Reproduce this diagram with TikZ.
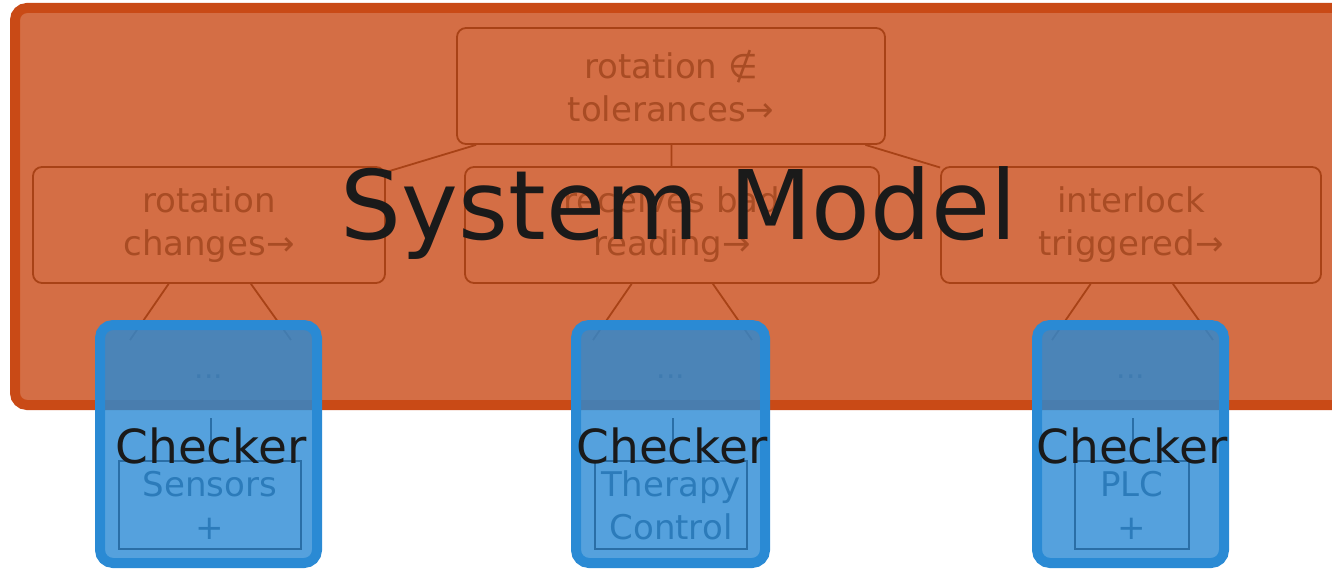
\documentclass[tikz,border=0pt]{standalone}
\usepackage{fontspec}
\setmainfont{DejaVu Sans}
\definecolor{sysorange}{HTML}{C94A16}
\definecolor{nodebrown}{HTML}{A84216}
\definecolor{nodetext}{HTML}{A94C24}
\definecolor{chkblue}{HTML}{2A8AD4}
\definecolor{dotblue}{HTML}{3F7BB0}
\definecolor{innerline}{HTML}{2A6EA6}
\definecolor{innertext}{HTML}{2C7BBA}
\definecolor{ink}{HTML}{1A1A1A}
\begin{document}
\begin{tikzpicture}[x=1pt,y=-1pt,
  sysbox/.style={draw=sysorange, fill=sysorange, fill opacity=0.8, line width=10pt, rounded corners=12pt},
  tnode/.style={draw=nodebrown, line width=1.8pt, rounded corners=9pt, text=nodetext,
    font=\fontsize{34}{43}\selectfont, align=center, inner sep=0pt, minimum height=116pt},
  conn/.style={draw=nodebrown, line width=1.8pt},
  chkbox/.style={draw=chkblue, fill=chkblue, fill opacity=0.8, line width=10pt, rounded corners=13pt},
  chklabel/.style={text=ink, font=\fontsize{47}{56}\selectfont, anchor=base, inner sep=0pt},
  dots/.style={text=dotblue, font=\fontsize{30}{36}\selectfont, anchor=base, inner sep=0pt},
  innerbox/.style={draw=innerline, line width=1.5pt, text=innertext,
    font=\fontsize{34}{43}\selectfont, align=center, inner sep=0pt},
  innerconn/.style={draw=innerline, line width=1.5pt}
]
\useasboundingbox (0,0) rectangle (1332,569);
% system box
\draw[sysbox] (15,8) rectangle (1345,405);
% tree nodes
\node[tnode, minimum width=428pt] (top) at (671,86) {rotation ∉\\tolerances→};
\node[tnode, minimum width=352pt] (left) at (209,225) {rotation\\changes→};
\node[tnode, minimum width=414pt] (mid) at (672,225) {receives bad\\reading→};
\node[tnode, minimum width=380pt] (right) at (1131,225) {interlock\\triggered→};
\coordinate (l1) at (130,340);
\coordinate (l2) at (291,340);
\coordinate (m1) at (593,340);
\coordinate (m2) at (752,340);
\coordinate (r1) at (1052,340);
\coordinate (r2) at (1213,340);
\draw[conn] (top) -- (left);
\draw[conn] (top) -- (mid);
\draw[conn] (top) -- (right);
\draw[conn] (left) -- (l1);
\draw[conn] (left) -- (l2);
\draw[conn] (mid) -- (m1);
\draw[conn] (mid) -- (m2);
\draw[conn] (right) -- (r1);
\draw[conn] (right) -- (r2);
% title
\node[text=ink, font=\fontsize{96}{110}\selectfont, anchor=base, inner sep=0pt] (title) at (679,240) {System Model};
% checker boxes
\draw[chkbox] (100,325) rectangle (317,563);
\draw[chkbox] (576,325) rectangle (765,563);
\draw[chkbox] (1037,325) rectangle (1224,563);
% contents
\node[dots] (d1) at (209,378) {...};
\node[dots] (d2) at (671,378) {...};
\node[dots] (d3) at (1131,378) {...};
\node[innerbox, minimum width=182pt, minimum height=88pt] (s1) at (210,505) {Sensors\\+};
\node[innerbox, minimum width=152pt, minimum height=88pt] (s2) at (671,505) {Therapy\\Control};
\node[innerbox, minimum width=114pt, minimum height=88pt] (s3) at (1132,505) {PLC\\+};
\coordinate (v1) at (211,418);
\coordinate (v2) at (673,418);
\coordinate (v3) at (1133,418);
\draw[innerconn] (v1) -- (v1 |- s1.north);
\draw[innerconn] (v2) -- (v2 |- s2.north);
\draw[innerconn] (v3) -- (v3 |- s3.north);
\node[chklabel] (c1) at (211,463) {Checker};
\node[chklabel] (c2) at (672,463) {Checker};
\node[chklabel] (c3) at (1132,463) {Checker};
\end{tikzpicture}
\end{document}
